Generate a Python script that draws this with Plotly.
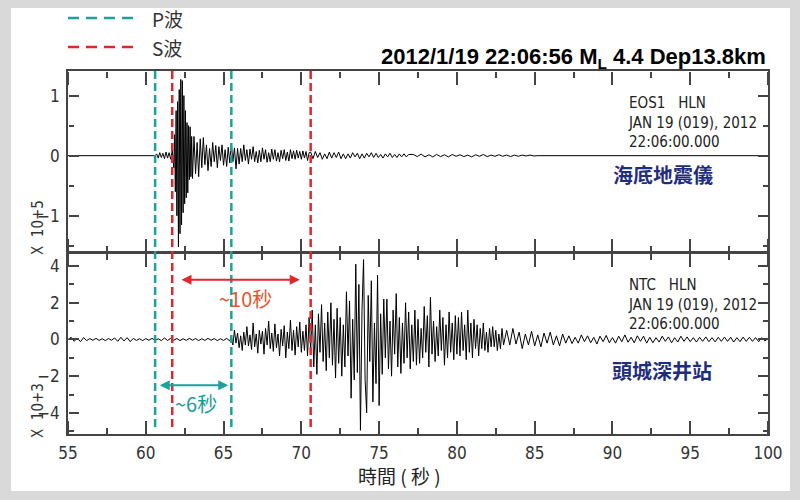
import plotly.graph_objects as go
from plotly.subplots import make_subplots

# ---------------- data ----------------
X_RANGE = [55, 100]
Y_TOP_RANGE = [-1.6, 1.41]      # x 1e5
Y_BOT_RANGE = [-5.15, 4.7]      # x 1e3

# P / S arrival markers (seconds)
P_TIMES = [60.6, 65.5]
S_TIMES = [61.7, 70.6]

# Ocean-bottom seismometer EOS1 (x 1e5): segments of (start time, sample step, values)
eos_flat_a = [0.0, 0.0]
eos_pre = [0.03, -0.04, 0.05, -0.03, 0.04, -0.05, 0.06, -0.04, 0.05, -0.06, 0.08]
eos_burst = [-0.2, 0.35, -0.6, 0.75, -1.0, 0.9, -1.52, 1.1, -1.3, 1.27, -1.15, 1.25,
             -0.95, 1.0, -0.8, 0.75, -0.7, 0.55, -0.62, 0.5, -0.4, 0.48, -0.35, 0.32, -0.38]
eos_coda1 = [0.32, -0.3, 0.22, -0.35, 0.28, -0.2, 0.3, -0.15, 0.18, -0.25,
             0.12, -0.18, 0.22, -0.1, 0.17, -0.2, 0.15, -0.08, 0.18, -0.16,
             0.1, -0.18, 0.14, -0.12, 0.2, -0.1, 0.13, -0.22, 0.12, -0.14]
eos_coda2 = [0.12, -0.1, 0.18, -0.08, 0.1, -0.14, 0.11, -0.06, 0.15, -0.1,
             0.07, -0.12, 0.09, -0.1, 0.13, -0.06, 0.1, -0.11, 0.05, -0.1,
             0.11, -0.06, 0.1, -0.09, 0.05, -0.1, 0.09, -0.05, 0.1, -0.08,
             0.06, -0.09, 0.1, -0.05, 0.08, -0.06, 0.09, -0.04, 0.07, -0.06,
             0.08, -0.04, 0.07, -0.08, 0.05]
eos_coda3 = [0.06, -0.05, 0.07, -0.03, 0.05, -0.06, 0.03, -0.05, 0.06, -0.04,
             0.05, -0.03, 0.06, -0.05, 0.03, -0.05, 0.03, -0.04, 0.05, -0.02,
             0.04, -0.05, 0.03, -0.04, 0.04, -0.02, 0.05, -0.03, 0.04, -0.03,
             0.02, -0.04, 0.03, -0.02, 0.04, -0.03, 0.02, -0.03, 0.03, -0.02,
             0.03, -0.02, 0.02]
eos_tail = [0.02, -0.015, 0.025, -0.02, 0.015, -0.02, 0.02, -0.015,
            0.015, -0.02, 0.02, -0.01, 0.015, -0.015, 0.01, -0.02,
            0.015, -0.01, 0.02, -0.015, 0.01, -0.01, 0.015, -0.01,
            0.01, -0.015, 0.01, -0.01, 0.01, -0.005, 0.01, -0.005]
eos_flat_b = [0.0, 0.0]
EOS_SEGMENTS = [(55.0, 5.6, eos_flat_a), (60.7, 0.1, eos_pre), (61.8, 0.05, eos_burst),
                (63.1, 0.1, eos_coda1), (66.1, 0.1, eos_coda2), (70.6, 0.15, eos_coda3),
                (77.2, 0.25, eos_tail), (85.2, 14.8, eos_flat_b)]

# Borehole station NTC (x 1e3)
ntc_noise = [0.0, 0.12, -0.1, 0.08, -0.12, 0.1, -0.06, 0.05, -0.04, 0.06,
             -0.05, 0.04, -0.06, 0.05, -0.04, 0.08, -0.1, 0.12, -0.08, 0.1,
             -0.12, 0.06, -0.05, 0.04, -0.06, 0.05, -0.04, 0.06, -0.05, 0.04,
             -0.06, 0.08, -0.05, 0.06, -0.04, 0.05, -0.06, 0.04, -0.05, 0.06,
             -0.04, 0.05, -0.06, 0.04, -0.05, 0.06, -0.04, 0.05, -0.06, 0.04,
             -0.05, 0.06, -0.08]
ntc_p = [0.15, -0.3, 0.5, -0.2, 0.35, -0.45, 0.2, -0.6, 0.4, -0.3,
         0.7, -0.35, 0.25, -0.55, 0.9, -0.4, 0.3, -0.75, 0.5, -0.25,
         0.45, -0.8, 0.6, -0.3, 1.0, -0.5, 0.35, -0.65, 0.85, -0.45,
         0.3, -0.9, 0.55, -0.35, 0.75, -1.0, 0.4, -0.5, 1.05, -0.6,
         0.5, -0.85, 0.7, -0.4, 0.95, -0.7, 0.45, -0.6, 0.8, -0.9]
ntc_s = [1.2, -0.6, 1.6, -1.5, 0.8, -1.9, 1.4, -0.7, 1.9, -1.2,
         0.9, -1.7, 1.5, -1.0, 2.0, -1.4, 1.1, -2.1, 1.7, -1.3]
ntc_peak = [1.2, -2.0, 0.8, -1.5, 2.6, -0.9, 2.1, -3.2, 1.1, -2.2,
            4.1, -1.8, 3.0, -4.95, 1.6, 4.35, -2.2, -4.0, 2.4, -1.2,
            3.2, -3.4, 0.9, -2.4, 3.5, -3.6, 1.4, -1.9, 2.2, -1.0]
ntc_coda1 = [2.2, -1.6, 1.0, -2.0, 1.6, -0.8, 2.5, -1.5, 1.2, -1.85,
             0.9, -1.3, 2.0, -1.0, 1.5, -1.6, 0.8, -1.2, 1.6, -1.4]
ntc_coda2 = [1.1, -1.3, 0.6, -1.0, 1.8, -0.7, 1.3, -1.5, 2.3, -0.8,
             1.0, -1.2, 0.7, -0.9, 1.6, -0.6, 1.2, -1.4, 0.8, -1.0,
             1.5, -0.7, 0.9, -1.1, 1.3, -0.8]
ntc_coda3 = [1.2, -0.9, 1.5, -0.6, 0.8, -1.1, 1.6, -0.7, 0.9, -1.0,
             1.1, -0.5, 0.8, -0.9, 0.6, -0.5, 0.9, -0.6, 0.4, -0.7,
             0.6, -0.4, 0.7, -0.4, 0.5, -0.6, 0.3, -0.5, 0.6, -0.3]
ntc_coda4 = [0.5, -0.3, 0.6, -0.25, 0.4, -0.5, 0.3, -0.3, 0.45, -0.35,
             0.25, -0.4, 0.35, -0.2, 0.4, -0.3, 0.2, -0.35, 0.3, -0.2]
ntc_tail = [0.2, -0.22, 0.12, -0.2, 0.25, -0.12, 0.2, -0.18, 0.12, -0.25,
            0.18, -0.12, 0.22, -0.18, 0.1, -0.2, 0.18, -0.12, 0.25, -0.15,
            0.12, -0.18, 0.2, -0.1, 0.18, -0.2, 0.12, -0.18, 0.1, -0.14,
            0.18, -0.1, 0.14, -0.18, 0.1, -0.14, 0.18, -0.1, 0.14, -0.12,
            0.1, -0.14, 0.12, -0.1, 0.14, -0.12, 0.1, -0.13, 0.12, -0.1,
            0.13, -0.1, 0.12, -0.14, 0.1, -0.12, 0.13, -0.1, 0.12, -0.1,
            0.1, -0.12, 0.1, -0.08, 0.05]
NTC_SEGMENTS = [(55.0, 0.2, ntc_noise), (65.5, 0.1, ntc_p), (70.5, 0.1, ntc_s),
                (72.5, 0.1, ntc_peak), (75.5, 0.1, ntc_coda1), (77.5, 0.1, ntc_coda2),
                (80.1, 0.1, ntc_coda3), (83.2, 0.2, ntc_coda4), (87.2, 0.2, ntc_tail)]


def assemble(segments):
    ts, vs = [], []
    for t0, dt, vals in segments:
        for i, v in enumerate(vals):
            ts.append(round(t0 + i * dt, 3))
            vs.append(v)
    return ts, vs


eos_t, eos_v = assemble(EOS_SEGMENTS)
ntc_t, ntc_v = assemble(NTC_SEGMENTS)

# ---------------- figure ----------------
NARROW = "Liberation Sans Narrow, DejaVu Sans Condensed, Arial Narrow, sans-serif"
CJK = "Noto Sans CJK TC, Noto Sans CJK SC, sans-serif"
TEAL = "#1ba39b"
RED = "#e2262e"
AXC = "#444444"
GRAY = "#d9d9d9"
TOP_DOM = [0.502, 1.0]
BOT_DOM = [0.0, 0.498]

fig = make_subplots(rows=2, cols=1, shared_xaxes=True, vertical_spacing=0)
fig.add_trace(go.Scatter(x=eos_t, y=eos_v, mode="lines",
                         line=dict(color="black", width=1), showlegend=False), row=1, col=1)
fig.add_trace(go.Scatter(x=ntc_t, y=ntc_v, mode="lines",
                         line=dict(color="black", width=1), showlegend=False), row=2, col=1)

# empty helper traces so the inward-tick overlay axes get drawn
for xa, ya in [("x3", "y3"), ("x4", "y4"), ("x5", "y5"), ("x6", "y6")]:
    fig.add_trace(go.Scatter(x=[None], y=[None], xaxis=xa, yaxis=ya, mode="lines",
                             showlegend=False, hoverinfo="skip"))

tf = dict(family=NARROW, size=17, color="#333")


def main_axis(rng, dtick, tick0, labels, **kw):
    d = dict(range=rng, tickmode="linear", tick0=tick0, dtick=dtick, ticks="",
             showline=True, linecolor=AXC, linewidth=1.5, mirror=True,
             showgrid=False, zeroline=False, showticklabels=labels, tickfont=tf,
             ticklabelstandoff=3)
    d.update(kw)
    return d


def tick_axis(overlay, side, position, rng, dmaj, dmin, lmaj, lmin, tick0):
    # outward ticks of an axis placed on the opposite edge point into the plot
    return dict(overlaying=overlay, anchor="free", position=position, side=side, range=rng,
                tickmode="linear", tick0=tick0, dtick=dmaj, ticks="outside", ticklen=lmaj,
                tickwidth=1.5, tickcolor=AXC, showline=False, showgrid=False, zeroline=False,
                showticklabels=False,
                minor=dict(tickmode="linear", tick0=tick0, dtick=dmin, ticks="outside",
                           ticklen=lmin, tickwidth=1.5, tickcolor=AXC, showgrid=False))


def strip(x0, x1, y0, y1):
    return dict(type="rect", xref="paper", yref="paper", x0=x0, x1=x1, y0=y0, y1=y1,
                fillcolor=GRAY, line=dict(width=0), layer="above")


shapes = [
    strip(-0.0971, -0.0814, -0.1818, 1.1956),
    strip(1.0314, 1.0457, -0.1818, 1.1956),
    strip(-0.0971, 1.0457, 1.1736, 1.1956),
    strip(-0.0971, 1.0457, -0.1818, -0.157),
    dict(type="line", xref="paper", yref="paper", x0=0.0, x1=0.103, y0=1.146, y1=1.146,
         line=dict(color=TEAL, width=2.5, dash="11px,7px")),
    dict(type="line", xref="paper", yref="paper", x0=0.0, x1=0.103, y0=1.066, y1=1.066,
         line=dict(color=RED, width=2.5, dash="11px,7px")),
]
for t in P_TIMES:
    shapes.append(dict(type="line", xref="x", yref="paper", x0=t, x1=t, y0=0.019, y1=1.0,
                       line=dict(color=TEAL, width=2.5, dash="8px,4px")))
for t in S_TIMES:
    shapes.append(dict(type="line", xref="x", yref="paper", x0=t, x1=t, y0=0.019, y1=1.0,
                       line=dict(color=RED, width=2.5, dash="8px,4px")))


def note(text, x, y, size, color, family, xanchor="center", yanchor="middle", **kw):
    d = dict(xref="paper", yref="paper", x=x, y=y, text=text, showarrow=False,
             xanchor=xanchor, yanchor=yanchor, font=dict(family=family, size=size, color=color))
    d.update(kw)
    return d


annotations = [
    note("P波", 0.117, 1.146, 19, "#333", CJK, xanchor="left"),
    note("S波", 0.117, 1.066, 19, "#333", CJK, xanchor="left"),
    note("<b>2012/1/19 22:06:56 M<sub>L</sub> 4.4 Dep13.8km</b>", 1.0, 1.036, 22, "black",
         "Liberation Sans, Arial, sans-serif", xanchor="right"),
    note("X  10+5", -0.043, 0.570, 15, "#333", NARROW, textangle=-90),
    note("X  10+3", -0.043, 0.066, 15, "#333", NARROW, textangle=-90),
    note("EOS1   HLN<br>JAN 19 (019), 2012<br>22:06:00.000", 0.797, 0.8595, 15, "#222",
         NARROW, xanchor="left", align="left"),
    note("NTC   HLN<br>JAN 19 (019), 2012<br>22:06:00.000", 0.797, 0.358, 15, "#222",
         NARROW, xanchor="left", align="left"),
    note("<b>海底地震儀</b>", 0.85, 0.7135, 20, "#1f2d7e", CJK),
    note("<b>頭城深井站</b>", 0.8486, 0.176, 20, "#1f2d7e", CJK),
    note("時間 ( 秒 )", 0.474, -0.113, 19, "#222", CJK),
    dict(xref="x2", yref="y2", axref="x2", ayref="y2", x=69.9, y=3.26, ax=62.2, ay=3.26,
         text="", showarrow=True, arrowside="end+start", arrowhead=2, arrowsize=1,
         arrowwidth=2, arrowcolor=RED),
    dict(xref="x2", yref="y2", axref="x2", ayref="y2", x=65.3, y=-2.5, ax=60.8, ay=-2.5,
         text="", showarrow=True, arrowside="end+start", arrowhead=2, arrowsize=1,
         arrowwidth=2, arrowcolor=TEAL),
    dict(xref="x2", yref="y2", x=66.4, y=2.23, text="~10秒", showarrow=False,
         xanchor="center", yanchor="middle", font=dict(family=CJK, size=20, color="#e8552d")),
    dict(xref="x2", yref="y2", x=63.2, y=-3.48, text="~6秒", showarrow=False,
         xanchor="center", yanchor="middle", font=dict(family=CJK, size=20, color="#1a9d96")),
]

fig.update_layout(
    width=800, height=500,
    margin=dict(l=68, r=32, t=71, b=66),
    paper_bgcolor="white", plot_bgcolor="white",
    xaxis=main_axis(X_RANGE, 5, 55, False),
    xaxis2=main_axis(X_RANGE, 5, 55, True),
    yaxis=main_axis(Y_TOP_RANGE, 1, 0, True, domain=TOP_DOM),
    yaxis2=main_axis(Y_BOT_RANGE, 2, 0, True, domain=BOT_DOM),
    # top panel: ticks rising from its bottom edge / hanging from its top edge
    xaxis3=tick_axis("x", "top", TOP_DOM[0], X_RANGE, 5, 2.5, 13, 6, 55),
    xaxis4=tick_axis("x", "bottom", TOP_DOM[1], X_RANGE, 5, 2.5, 13, 6, 55),
    yaxis3=tick_axis("y", "right", 0.0, Y_TOP_RANGE, 1, 0.5, 10, 5, 0),
    yaxis4=tick_axis("y", "left", 1.0, Y_TOP_RANGE, 1, 0.5, 10, 5, 0),
    # bottom panel
    xaxis5=tick_axis("x2", "top", BOT_DOM[0], X_RANGE, 5, 2.5, 13, 6, 55),
    xaxis6=tick_axis("x2", "bottom", BOT_DOM[1], X_RANGE, 5, 2.5, 13, 6, 55),
    yaxis5=tick_axis("y2", "right", 0.0, Y_BOT_RANGE, 2, 1, 10, 5, 0),
    yaxis6=tick_axis("y2", "left", 1.0, Y_BOT_RANGE, 2, 1, 10, 5, 0),
    shapes=shapes, annotations=annotations, showlegend=False,
)

fig.write_html("out.html")
